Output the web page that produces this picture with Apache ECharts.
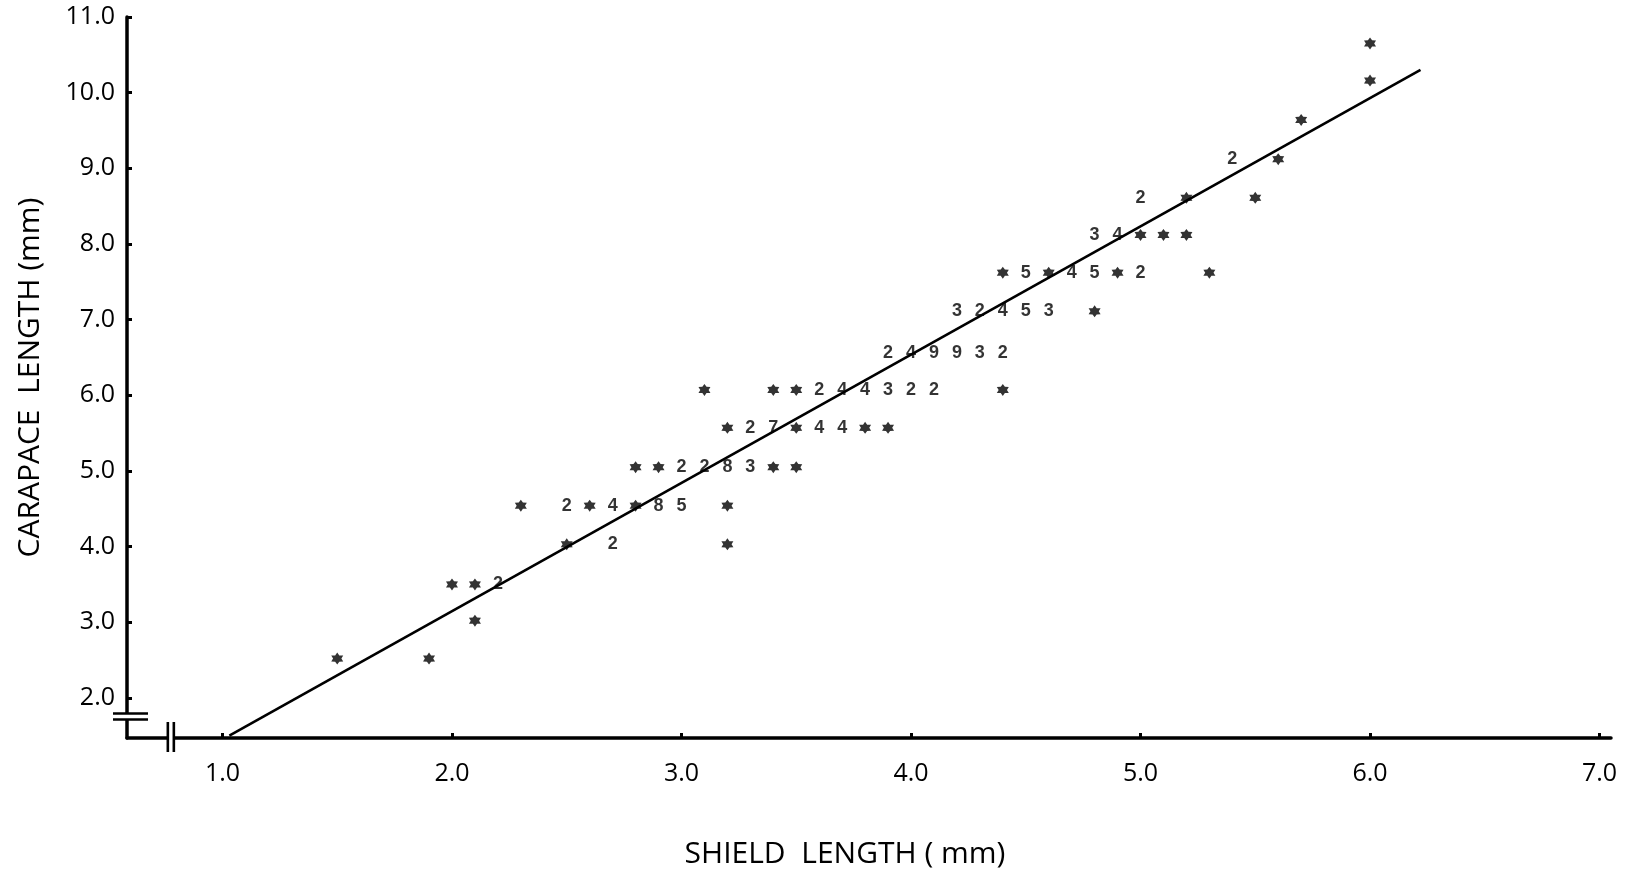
<!DOCTYPE html>
<html>
<head>
<meta charset="utf-8">
<style>
  html, body { margin: 0; padding: 0; background: #fff; }
  #chart { width: 1636px; height: 876px; }
</style>
<script src="https://cdn.jsdelivr.net/npm/echarts@6/dist/echarts.min.js"></script>
</head>
<body>
<div id="chart"></div>
<script>
// one entry per plotted mark, row by row from the bottom.
// count 1 is drawn as an asterisk, bigger counts are drawn as the digit
const shieldLength = [
  1.5, 1.9,
  2.1,
  2.0, 2.1, 2.2,
  2.5, 2.7, 3.2,
  2.3, 2.5, 2.6, 2.7, 2.8, 2.9, 3.0, 3.2,
  2.8, 2.9, 3.0, 3.1, 3.2, 3.3, 3.4, 3.5,
  3.2, 3.3, 3.4, 3.5, 3.6, 3.7, 3.8, 3.9,
  3.1, 3.4, 3.5, 3.6, 3.7, 3.8, 3.9, 4.0, 4.1, 4.4,
  3.9, 4.0, 4.1, 4.2, 4.3, 4.4,
  4.2, 4.3, 4.4, 4.5, 4.6, 4.8,
  4.4, 4.5, 4.6, 4.7, 4.8, 4.9, 5.0, 5.3,
  4.8, 4.9, 5.0, 5.1, 5.2,
  5.0, 5.2, 5.5,
  5.4, 5.6,
  5.7,
  6.0,
  6.0,
];
const carapaceLength = [
  2.52, 2.52,
  3.02,
  3.5, 3.5, 3.5,
  4.03, 4.03, 4.03,
  4.54, 4.54, 4.54, 4.54, 4.54, 4.54, 4.54, 4.54,
  5.05, 5.05, 5.05, 5.05, 5.05, 5.05, 5.05, 5.05,
  5.57, 5.57, 5.57, 5.57, 5.57, 5.57, 5.57, 5.57,
  6.07, 6.07, 6.07, 6.07, 6.07, 6.07, 6.07, 6.07, 6.07, 6.07,
  6.56, 6.56, 6.56, 6.56, 6.56, 6.56,
  7.11, 7.11, 7.11, 7.11, 7.11, 7.11,
  7.62, 7.62, 7.62, 7.62, 7.62, 7.62, 7.62, 7.62,
  8.12, 8.12, 8.12, 8.12, 8.12,
  8.61, 8.61, 8.61,
  9.12, 9.12,
  9.64,
  10.16,
  10.65,
];
const counts = [
  1, 1,
  1,
  1, 1, 2,
  1, 2, 1,
  1, 2, 1, 4, 1, 8, 5, 1,
  1, 1, 2, 2, 8, 3, 1, 1,
  1, 2, 7, 1, 4, 4, 1, 1,
  1, 1, 1, 2, 4, 4, 3, 2, 2, 1,
  2, 4, 9, 9, 3, 2,
  3, 2, 4, 5, 3, 1,
  1, 5, 1, 4, 5, 1, 2, 1,
  3, 4, 1, 1, 1,
  2, 1, 1,
  2, 1,
  1,
  1,
  1,
];
// regression line end points
const fitLine = [[1.03, 1.5], [6.22, 10.3]];
const xTicks = [1, 2, 3, 4, 5, 6, 7];
const yTicks = [2, 3, 4, 5, 6, 7, 8, 9, 10, 11];

const xMin = 0.584, xMax = 7.05;
const yMin = 1.47, yMax = 11;

const ink = "#000";
const labelFont = "'Open Sans', Lato, sans-serif";

function asteriskPath() {
  const pts = [];
  for (let i = 0; i < 12; i++) {
    const r = i % 2 === 0 ? 50 : 30;
    const a = (Math.PI / 6) * i - Math.PI / 2;
    pts.push((50 + r * Math.cos(a)).toFixed(1) + "," + (50 + r * Math.sin(a)).toFixed(1));
  }
  return "path://M" + pts.join("L") + "Z";
}

const singles = [];
const multiples = [];
shieldLength.forEach((x, i) => {
  const point = [x, carapaceLength[i], counts[i]];
  if (counts[i] === 1) singles.push(point);
  else multiples.push(point);
});

const chart = echarts.init(document.getElementById("chart"), null, { renderer: "canvas" });

chart.setOption({
  animation: false,
  backgroundColor: "#fff",
  grid: { left: 127, right: 25, top: 17, bottom: 138 },
  xAxis: {
    type: "value",
    min: xMin,
    max: xMax,
    name: "SHIELD  LENGTH ( mm)",
    nameLocation: "middle",
    nameGap: 101,
    nameTextStyle: {
      color: ink,
      fontFamily: labelFont,
      fontSize: 30,
      padding: [0, 48, 0, 0],
    },
    axisLine: { lineStyle: { color: ink, width: 3.5 } },
    axisTick: {
      inside: true,
      length: 5,
      customValues: xTicks,
      lineStyle: { color: ink, width: 3 },
    },
    axisLabel: {
      customValues: xTicks,
      formatter: (v) => v.toFixed(1),
      color: ink,
      fontFamily: labelFont,
      fontSize: 25,
      margin: 23,
    },
    splitLine: { show: false },
  },
  yAxis: {
    type: "value",
    min: yMin,
    max: yMax,
    name: "CARAPACE  LENGTH (mm)",
    nameLocation: "middle",
    nameRotate: 90,
    nameGap: 82,
    nameTextStyle: {
      color: ink,
      fontFamily: labelFont,
      fontSize: 30,
    },
    axisLine: { lineStyle: { color: ink, width: 3.5 } },
    axisTick: {
      inside: true,
      length: 5,
      customValues: yTicks,
      lineStyle: { color: ink, width: 3 },
    },
    axisLabel: {
      customValues: yTicks,
      formatter: (v) => v.toFixed(1),
      color: ink,
      fontFamily: labelFont,
      fontSize: 25,
      margin: 12,
    },
    splitLine: { show: false },
  },
  series: [
    {
      name: "fit",
      type: "line",
      data: fitLine,
      showSymbol: false,
      symbol: "none",
      lineStyle: { color: ink, width: 2.6 },
      z: 2,
    },
    {
      name: "single",
      type: "scatter",
      data: singles,
      symbol: asteriskPath(),
      symbolSize: 12,
      itemStyle: { color: ink },
      z: 3,
    },
    {
      name: "multiple",
      type: "scatter",
      data: multiples,
      symbol: "circle",
      symbolSize: 1,
      itemStyle: { color: "rgba(0,0,0,0)" },
      label: {
        show: true,
        position: "inside",
        formatter: (p) => String(p.value[2]),
        color: ink,
        fontFamily: "'Liberation Sans', Arial, sans-serif",
        fontWeight: "bold",
        fontSize: 18,
      },
      z: 3,
    },
  ],
});

// axis break marks near the corner
const toPx = (x, y) => chart.convertToPixel({ gridIndex: 0 }, [x, y]);
const corner = toPx(xMin, yMin);
const yBreak = toPx(xMin, 1.755)[1];
const xBreak = toPx(0.775, yMin)[0];
const bar = (x1, y1, x2, y2) => ({
  type: "line",
  shape: { x1, y1, x2, y2 },
  style: { stroke: ink, lineWidth: 2.6 },
  z: 100,
});
chart.setOption({
  graphic: [
    {
      type: "rect",
      shape: { x: corner[0] - 6, y: yBreak - 3, width: 12, height: 6 },
      style: { fill: "#fff" },
      z: 99,
    },
    bar(corner[0] - 14, yBreak - 3, corner[0] + 21, yBreak - 3),
    bar(corner[0] - 14, yBreak + 3, corner[0] + 21, yBreak + 3),
    {
      type: "rect",
      shape: { x: xBreak - 3, y: corner[1] - 5, width: 6, height: 10 },
      style: { fill: "#fff" },
      z: 99,
    },
    bar(xBreak - 3, corner[1] - 16, xBreak - 3, corner[1] + 14),
    bar(xBreak + 3, corner[1] - 16, xBreak + 3, corner[1] + 14),
  ],
});
</script>
</body>
</html>
